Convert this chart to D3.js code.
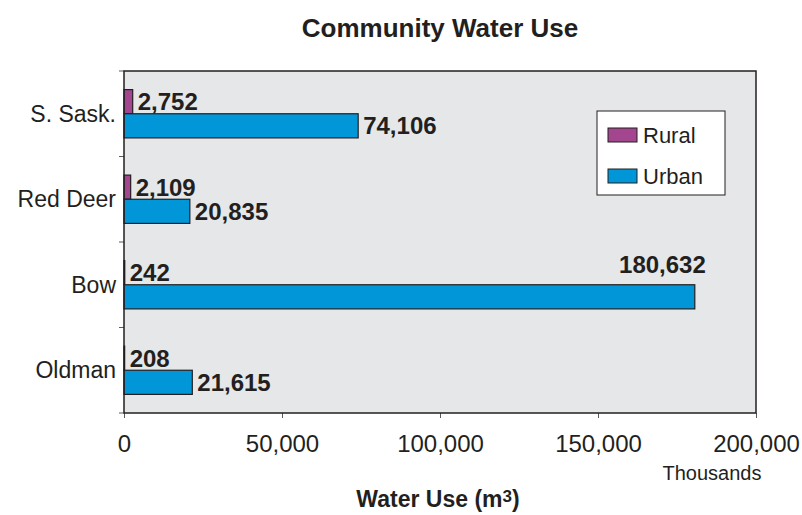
<!DOCTYPE html>
<html>
<head>
<meta charset="utf-8">
<script src="https://cdn.jsdelivr.net/npm/d3@7"></script>
<style>
  html, body { margin: 0; padding: 0; background: #fff; }
  svg { display: block; font-family: "Liberation Sans", Arial, sans-serif; }
</style>
</head>
<body>
<svg id="chart" width="802" height="515"></svg>
<script>
// Categories, top to bottom
const basins = ["S. Sask.", "Red Deer", "Bow", "Oldman"];
const seriesNames = ["Rural", "Urban"];
// Water use, thousands of m³
const ruralUse = [2752, 2109, 242, 208];
const urbanUse = [74106, 20835, 180632, 21615];
const xTicks = [0, 50000, 100000, 150000, 200000];

const colors = { Rural: "#a3468f", Urban: "#0096d7" };
const ink = "#231f20";

const svg = d3.select("#chart");
const m = { left: 124, right: 756, top: 71, bottom: 413 };

const x = d3.scaleLinear().domain([0, 200000]).range([m.left, m.right]);
const y = d3.scaleBand().domain(basins).range([m.top, m.bottom]).paddingInner(0.435).paddingOuter(0.2175);
const ySub = d3.scaleBand().domain(seriesNames).range([0, y.bandwidth()]);

const fmt = d3.format(",");

// Title
svg.append("text").attr("x", 440).attr("y", 37).attr("text-anchor", "middle")
  .attr("font-size", 26).attr("font-weight", "bold").attr("fill", ink)
  .text("Community Water Use");

// Plot background
svg.append("rect").attr("x", m.left).attr("y", m.top)
  .attr("width", m.right - m.left).attr("height", m.bottom - m.top)
  .attr("fill", "#e6e7e8");

// Axes
const xAxis = svg.append("g").attr("transform", `translate(0,${m.bottom})`)
  .call(d3.axisBottom(x).tickValues(xTicks).tickFormat(fmt).tickSize(5).tickPadding(17));
xAxis.select(".domain").remove();
xAxis.selectAll("line").attr("stroke", "#58595b");
xAxis.selectAll("text").attr("font-size", 24).attr("fill", ink).attr("font-family", "Liberation Sans, Arial, sans-serif");

// Category separators as ticks on the left side
const sepY = d3.range(basins.length + 1).map(i => m.top + i * (m.bottom - m.top) / basins.length);
svg.append("g").selectAll("line").data(sepY).join("line")
  .attr("x1", m.left - 5).attr("x2", m.left).attr("y1", d => d).attr("y2", d => d)
  .attr("stroke", "#58595b");

svg.append("g").selectAll("text").data(basins).join("text")
  .attr("x", m.left - 8).attr("y", d => y(d) + y.bandwidth() / 2)
  .attr("dy", "0.35em").attr("text-anchor", "end")
  .attr("font-size", 23).attr("fill", ink).text(d => d);

// Bars
const rows = basins.map((b, i) => ({ basin: b, Rural: ruralUse[i], Urban: urbanUse[i] }));
const groups = svg.append("g").selectAll("g").data(rows).join("g")
  .attr("transform", d => `translate(0,${y(d.basin)})`);

groups.selectAll("rect").data(d => seriesNames.map(s => ({ s, v: d[s] }))).join("rect")
  .attr("x", x(0)).attr("y", d => ySub(d.s))
  .attr("width", d => x(d.v) - x(0)).attr("height", ySub.bandwidth())
  .attr("fill", d => colors[d.s]).attr("stroke", ink).attr("stroke-width", 1.2);

// Value labels: to the right of the bar, or above its end when it would overflow
groups.selectAll("text").data(d => seriesNames.map(s => ({ s, v: d[s] }))).join("text")
  .attr("font-size", 24).attr("font-weight", "bold").attr("fill", ink)
  .each(function (d) {
    const t = d3.select(this).text(fmt(d.v));
    const w = this.getComputedTextLength();
    const xe = x(d.v) + 5;
    if (xe + w > m.right) {
      t.attr("x", x(d.v) + 11).attr("text-anchor", "end")
        .attr("y", ySub("Rural") + ySub.bandwidth() / 2 - 8).attr("dy", "0.35em");
    } else {
      t.attr("x", xe).attr("y", ySub(d.s) + ySub.bandwidth() / 2).attr("dy", "0.35em");
    }
  });

// Plot frame
svg.append("rect").attr("x", m.left).attr("y", m.top)
  .attr("width", m.right - m.left).attr("height", m.bottom - m.top)
  .attr("fill", "none").attr("stroke", ink).attr("stroke-width", 1.5);

// Legend
const lg = svg.append("g").attr("transform", "translate(597,111)");
lg.append("rect").attr("width", 128).attr("height", 84).attr("fill", "#fff").attr("stroke", ink).attr("stroke-width", 1);
seriesNames.forEach((s, i) => {
  const yy = 17 + i * 41;
  lg.append("rect").attr("x", 11).attr("y", yy).attr("width", 29).attr("height", 14)
    .attr("fill", colors[s]).attr("stroke", ink).attr("stroke-width", 1);
  lg.append("text").attr("x", 46).attr("y", yy + 7).attr("dy", "0.35em")
    .attr("font-size", 22).attr("fill", ink).text(s);
});

// Axis titles
const at = svg.append("text").attr("x", 438).attr("y", 507).attr("text-anchor", "middle")
  .attr("font-size", 23).attr("font-weight", "bold").attr("fill", ink);
at.append("tspan").text("Water Use (m");
at.append("tspan").attr("font-size", 17).attr("dy", -5).text("3");
at.append("tspan").attr("dy", 5).text(")");

svg.append("text").attr("x", 712).attr("y", 480).attr("text-anchor", "middle")
  .attr("font-size", 20).attr("fill", ink).text("Thousands");
</script>
</body>
</html>
